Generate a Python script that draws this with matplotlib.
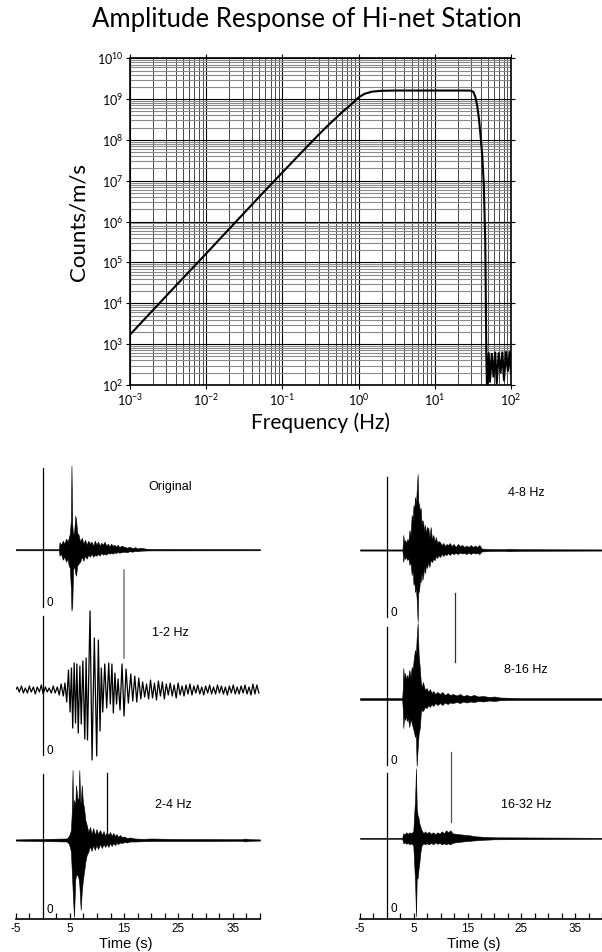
import matplotlib
matplotlib.use('Agg')
import matplotlib.pyplot as plt
from matplotlib.ticker import LogLocator, MultipleLocator, FixedLocator, FixedFormatter, NullFormatter

plt.rcParams['font.family'] = ['Lato', 'DejaVu Sans']
plt.rcParams['mathtext.default'] = 'regular'
plt.rcParams['axes.unicode_minus'] = False

# ---- amplitude response ----
freq = [0.001, 0.002, 0.005, 0.01, 0.02, 0.05, 0.1, 0.2, 0.3, 0.4, 0.5, 0.6, 0.7,
        0.8, 1.0, 1.2, 1.5, 2.0, 3.0, 5.0, 10, 20, 28, 30, 32, 34, 36, 38, 40,
        42, 44, 46, 47.5, 48.5]
counts = [1.7e3, 6.8e3, 4.2e4, 1.65e5, 6.6e5, 4.1e6, 1.6e7, 6.2e7, 1.35e8, 2.3e8,
          3.4e8, 4.7e8, 6.0e8, 7.4e8, 1.1e9, 1.35e9, 1.52e9, 1.6e9, 1.62e9, 1.62e9,
          1.62e9, 1.62e9, 1.62e9, 1.6e9, 1.5e9, 1.15e9, 7e8, 3.3e8, 1.2e8,
          4e7, 8e6, 3e5, 5e2, 80]
noise_freq = [49, 51, 53, 56, 59, 62, 65, 69, 73, 77, 81, 86, 91, 96, 100]
noise_counts = [90, 6e2, 1.2e2, 5.8e2, 1.6e2, 6.2e2, 1.1e2, 6e2, 2e2, 6.3e2, 1.3e2,
                6.4e2, 2.2e2, 6.5e2, 2e2]

# ---- seismograms: envelopes (time s, upper, lower) in relative amplitude ----
t_orig = [-5, 3.0, 3.1, 3.4, 3.7, 4.0, 4.3, 4.6, 4.8, 5.0,
          5.2, 5.3, 5.45, 5.6, 5.8, 6.0, 6.15, 6.35, 6.6, 6.9,
          7.2, 7.5, 7.8, 8.1, 8.4, 8.7, 9.0, 9.3, 9.6, 9.9,
          10.2, 10.5, 10.8, 11.1, 11.4, 11.7, 12.0, 12.3, 12.6, 12.9,
          13.2, 13.5, 13.8, 14.1, 14.5, 15.0, 15.5, 16.0, 16.5, 17.0,
          17.5, 18.0, 19.0, 20.0, 40]
up_orig = [0.6, 0.6, 7.5, 5, 9, 6, 11, 8, 12, 16,
           30, 84, 25, 14, 18, 34, 30, 17, 15, 8,
           12, 6, 10, 5, 9, 6, 8, 4, 9, 5,
           8, 4, 7, 5, 8, 4, 6, 3, 6, 4,
           5, 3, 5, 2.5, 4, 3, 2, 3, 1.5, 2.5,
           1.2, 2, 1, 0.8, 0.6]
lo_orig = [-0.6, -0.6, -6, -4, -10, -7, -12, -9, -16, -18,
           -40, -61, -55, -20, -16, -24, -26, -16, -14, -12,
           -7, -11, -6, -9, -5, -7, -4, -7, -5, -6,
           -4, -6, -3, -5, -4, -5, -3, -4, -3, -4,
           -2.5, -3.5, -2, -3, -2.5, -2, -2.5, -1.5, -2, -1.2,
           -1.5, -1, -0.8, -0.7, -0.6]

# 1-2 Hz: successive peaks and troughs
t_12 = [-5.0, -4.65, -4.3, -3.9, -3.55, -3.2, -2.8, -2.45, -2.1, -1.7, -1.35, -1.0,
        -0.6, -0.25, 0.1, 0.5, 0.85, 1.2, 1.6, 1.95, 2.3, 2.7, 3.05, 3.4, 3.8,
        4.10, 4.43, 4.75, 5.05, 5.30, 5.53, 5.80, 6.05, 6.30, 6.55, 6.85, 7.10,
        7.40, 7.75, 8.00, 8.25, 8.72, 9.09, 9.51, 9.95, 10.25, 10.56, 10.80, 11.06,
        11.43, 11.79, 12.16, 12.45, 12.75, 13.01, 13.30, 13.60, 13.88, 14.24, 14.61,
        14.98, 15.35, 15.77, 16.22, 16.58, 16.95, 17.32, 17.69, 18.06,
        18.40, 18.77, 19.12, 19.50, 19.85, 20.22, 20.58, 20.95, 21.30, 21.68, 22.03,
        22.40, 22.75, 23.12, 23.48, 23.85, 24.20, 24.58, 24.93, 25.30, 25.66, 26.02,
        26.38, 26.75, 27.10, 27.48, 27.83, 28.20, 28.55, 28.92, 29.28, 29.65, 30.00,
        30.38, 30.73, 31.10, 31.45, 31.83, 32.18, 32.55, 32.90, 33.28, 33.63, 34.00,
        34.36, 34.72, 35.08, 35.45, 35.80, 36.17, 36.52, 36.90, 37.25, 37.62, 37.98,
        38.35, 38.70, 39.07, 39.42, 39.80]
a_12 = [0, 3, -2, 4, -3, 2, -3, 4, -2, 3, -4, 3, -2, 5, -4, 3, -2, 2, -3, 4, -3, 3,
        -5, 6, -6,
        7, -12, 20, -22, 22, -38, 27, -33, 26, -43, 24, -34,
        29, -49, 32, -50, 79, -70, 52, -66, 50, -41, 22, -22,
        26, -18, 27, -14, 26, -23, 17, -14, 11, -20, 26,
        -26, 21, -13, 16, -11, 14, -12, 12, -9,
        8, -7, 6, -9, 10, -8, 7, -10, 9, -6, 8,
        -9, 6, -5, 7, -6, 5, -8, 7, -5, 4, -6,
        5, -4, 6, -5, 4, -3, 5, -4, 3, -5, 4,
        -3, 5, -4, 3, -4, 5, -3, 4, -4, 3, -5,
        4, -3, 5, -4, 3, -4, 4, -3, 5, -4, 3,
        -5, 6, -4, 5, -3]

t_24 = [-5, 4.4, 4.7, 4.9, 5.1, 5.2, 5.35, 5.5, 5.6, 5.77,
        6.0, 6.14, 6.38, 6.6, 6.75, 6.9, 7.0, 7.19, 7.4, 7.62,
        7.85, 8.11, 8.4, 8.72, 9.0, 9.3, 9.6, 9.9, 10.2, 10.56,
        10.9, 11.2, 11.5, 11.8, 12.1, 12.4, 12.7, 13.0, 13.3, 13.6,
        13.9, 14.24, 14.6, 15.0, 15.5, 16.1, 17, 18.5, 20, 25,
        30, 36.5, 37.3, 38.2, 40]
up_24 = [0.6, 1.5, 3, 5, 8, 10, 27, 70, 30, 40,
         35, 55, 42, 40, 70, 40, 35, 55, 38, 32,
         20, 15, 8, 13, 6, 12, 5, 11, 6, 10,
         5, 9, 4, 8, 5, 8, 4, 7, 4, 6,
         3, 5, 3, 3.5, 2, 2.5, 1.5, 1.2, 1.5, 1,
         1, 0.8, 1.4, 0.8, 0.6]
lo_24 = [-0.6, -1.5, -3, -5, -9, -12, -30, -48, -60, -77,
         -40, -35, -35, -38, -45, -60, -70, -52, -40, -32,
         -22, -15, -12, -6, -11, -5, -10, -5, -9, -4,
         -8, -4, -7, -4, -7, -3, -6, -3, -5, -3,
         -4, -2.5, -3, -2, -2.5, -1.5, -1.5, -1.2, -1, -1,
         -1, -0.8, -1.4, -0.8, -0.6]

t_48 = [-5, 2.9, 3.05, 3.2, 3.4, 3.6, 3.8, 4.0, 4.2, 4.4,
        4.61, 4.8, 4.95, 5.1, 5.22, 5.4, 5.55, 5.72, 5.84, 6.0,
        6.15, 6.28, 6.45, 6.6, 6.77, 6.95, 7.1, 7.27, 7.45, 7.7,
        7.9, 8.14, 8.4, 8.63, 8.9, 9.1, 9.37, 9.6, 9.87, 10.2,
        10.5, 10.8, 11.1, 11.4, 11.7, 12.0, 12.4, 12.8, 13.2, 13.6,
        14.0, 14.4, 14.8, 15.2, 15.6, 16.0, 16.4, 16.8, 17.2, 17.6,
        19.0, 22.0, 22.5, 25.0, 40]
up_48 = [0.6, 0.6, 15, 8, 10, 7, 11, 9, 20, 14,
         35, 30, 45, 40, 53, 45, 60, 76, 48, 45,
         38, 42, 25, 30, 27, 18, 25, 16, 23, 22,
         12, 23, 10, 15, 8, 13, 7, 9, 8, 5,
         7, 4, 6, 5, 7, 4, 6, 3, 6, 4,
         5, 3, 4.5, 3, 5, 3, 4.5, 3, 5, 1.5,
         1, 0.8, 1.2, 0.8, 0.6]
lo_48 = [-0.6, -0.6, -12, -6, -9, -7, -10, -8, -15, -12,
         -25, -20, -35, -30, -42, -38, -50, -72, -43, -40,
         -30, -32, -22, -30, -25, -17, -23, -15, -18, -12,
         -17, -10, -12, -9, -10, -6, -8, -5, -7, -4,
         -6, -4, -5, -3, -5, -3, -4, -3, -4, -2.5,
         -3.5, -3, -4, -2.5, -4, -2.5, -3.5, -3, -4, -1.5,
         -1, -0.8, -1.2, -0.8, -0.6]

t_816 = [-5, 2.85, 2.95, 3.05, 3.2, 3.4, 3.55, 3.7, 3.9, 4.17,
         4.4, 4.61, 4.8, 5.0, 5.22, 5.4, 5.53, 5.72, 5.9, 6.15,
         6.3, 6.46, 6.7, 7.08, 7.4, 7.7, 8.0, 8.3, 8.63, 9.0,
         9.4, 9.87, 10.3, 10.8, 11.3, 11.73, 12.3, 12.97, 13.6, 14.2,
         14.83, 15.5, 16.2, 17.0, 17.92, 19.0, 20.0, 21.0, 22.9, 25,
         40]
up_816 = [0.9, 0.9, 10, 31, 20, 26, 18, 24, 20, 29,
          22, 32, 30, 40, 49, 45, 60, 76, 45, 29,
          17, 12, 17, 9, 11, 7, 10, 6, 8, 5,
          7, 5, 7, 4, 6, 4, 5, 3.5, 5, 3,
          4, 3, 4, 2.5, 3, 2, 2.5, 1.5, 1.2, 0.9,
          0.9]
lo_816 = [-0.9, -0.9, -10, -29, -18, -21, -16, -22, -19, -28,
          -20, -24, -28, -32, -38, -35, -67, -50, -35, -28,
          -14, -11, -12, -8, -9, -6, -8, -5, -7, -4,
          -6, -4, -6, -3.5, -5, -3.5, -4, -3, -4, -2.5,
          -3.5, -2.5, -3, -2, -2.5, -1.5, -2, -1.2, -1, -0.9,
          -0.9]

t_1632 = [-5, 2.85, 3.05, 3.3, 3.6, 3.9, 4.2, 4.5, 4.91, 5.09,
          5.25, 5.41, 5.55, 5.72, 5.9, 6.03, 6.2, 6.46, 6.8, 7.1,
          7.39, 7.8, 8.2, 8.6, 9.0, 9.4, 9.8, 10.2, 10.6, 11.0,
          11.4, 11.8, 12.2, 12.8, 13.6, 14.4, 15.4, 16.5, 17.9, 20,
          40]
up_1632 = [0.5, 0.5, 5, 4, 6, 4.5, 6, 5, 7, 25,
           40, 70, 30, 23, 20, 15, 12, 8, 5, 7,
           5, 6.5, 4.5, 6, 4, 6, 4.5, 7, 5, 8,
           6, 8, 5, 4.5, 4, 3.5, 3, 2, 1.5, 1,
           0.5]
lo_1632 = [-0.5, -0.5, -5, -4, -5.5, -4.5, -6, -5, -7, -27,
           -45, -78, -40, -40, -30, -25, -15, -7, -5, -6,
           -5, -6, -4.5, -6, -4, -5.5, -4.5, -6, -5, -6,
           -5, -6, -4.5, -4, -3.5, -3, -2.5, -2, -1.5, -1,
           -0.5]

time_ticks = [-5, 5, 15, 25, 35]
time_labels = ['-5', '5', '15', '25', '35']

fig = plt.figure(figsize=(6.02, 9.52), dpi=100)

# ---------------- response plot ----------------
ax = fig.add_axes([0.2159, 0.5956, 0.6329, 0.3432])
ax.loglog(freq + noise_freq, counts + noise_counts, color='black', lw=1.5, zorder=3)
ax.set_xlim(1e-3, 1e2)
ax.set_ylim(1e2, 1e10)
ax.xaxis.set_major_locator(LogLocator(base=10, numticks=20))
ax.yaxis.set_major_locator(LogLocator(base=10, numticks=20))
ax.xaxis.set_minor_locator(LogLocator(base=10, subs=range(2, 10), numticks=20))
ax.yaxis.set_minor_locator(LogLocator(base=10, subs=range(2, 10), numticks=20))
ax.xaxis.set_minor_formatter(NullFormatter())
ax.yaxis.set_minor_formatter(NullFormatter())
ax.set_axisbelow(True)
ax.grid(which='major', color='black', lw=0.8)
ax.xaxis.grid(which='minor', color='#2a2a2a', lw=0.6)
ax.yaxis.grid(which='minor', color='#8a8a8a', lw=0.8)
ax.tick_params(which='major', direction='out', length=3, width=0.8, top=True,
               right=True, labelsize=9, pad=2)
ax.tick_params(which='minor', length=0)
for s in ax.spines.values():
    s.set_linewidth(1.2)
ax.set_xlabel('Frequency (Hz)', fontsize=15)
ax.set_ylabel('Counts/m/s', fontsize=16)
ax.xaxis.set_label_coords(0.5, -0.116)
ax.yaxis.set_label_coords(-0.136, 0.5)
ax.xaxis.label.set_va('center')
ax.yaxis.label.set_va('center')
fig.text(307 / 602, 1 - 20 / 952, 'Amplitude Response of Hi-net Station',
         ha='center', va='center', fontsize=18.5)

# ---------------- seismograms ----------------
helv = ['Liberation Sans', 'DejaVu Sans']


def seis_axes(rect, label_x):
    a = fig.add_axes(rect)
    a.set_xlim(-5, 40)
    a.set_ylim(0, 457)
    for side in ['left', 'right', 'top']:
        a.spines[side].set_visible(False)
    a.spines['bottom'].set_linewidth(1.2)
    a.set_yticks([])
    a.xaxis.set_major_locator(FixedLocator(time_ticks))
    a.xaxis.set_major_formatter(FixedFormatter(time_labels))
    a.xaxis.set_minor_locator(MultipleLocator(2.5))
    a.tick_params(which='both', direction='in', length=4, width=0.9, labelsize=8.5, pad=3)
    for lab in a.get_xticklabels():
        lab.set_family(helv)
    a.set_xlabel('Time (s)', fontsize=10.5, family=helv)
    a.xaxis.set_label_coords(label_x, -25 / 457)
    a.xaxis.label.set_va('center')
    return a


def env(a, t, up, lo, base):
    a.fill_between(t, [base + v for v in lo], [base + v for v in up],
                   color='black', lw=0.4, zorder=3)


def marks(a, y0, y1, name, name_x, name_y):
    a.plot([0, 0], [y0, y1], color='black', lw=0.9, zorder=2)
    a.text(0.65, y0 + 1, '0', fontsize=8.5, family=helv, ha='left', va='baseline')
    a.text(name_x, name_y, name, fontsize=9, family=helv, ha='center', va='center')


axl = seis_axes([0.02575, 0.03466, 0.4061, 0.48004], 0.45)
env(axl, t_orig, up_orig, lo_orig, 369.3)
axl.plot(t_12, [229 + v for v in a_12], color='black', lw=0.9, zorder=3)
env(axl, t_24, up_24, lo_24, 79)
marks(axl, 312, 451, 'Original', 23.5, 432)
marks(axl, 164, 303, '1-2 Hz', 23.5, 286)
marks(axl, 5, 145, '2-4 Hz', 24.0, 114)
axl.plot([14.9, 14.9], [261, 349], color='#7a7a7a', lw=1.1, zorder=2)
axl.plot([11.85, 11.85], [87, 146], color='black', lw=0.9, zorder=2)

axr = seis_axes([0.598, 0.03466, 0.402, 0.48004], 0.47)
env(axr, t_48, up_48, lo_48, 369)
env(axr, t_816, up_816, lo_816, 220)
env(axr, t_1632, up_1632, lo_1632, 80.7)
marks(axr, 302, 442, '4-8 Hz', 25.9, 426)
marks(axr, 154, 292, '8-16 Hz', 25.9, 249)
marks(axr, 6, 146, '16-32 Hz', 26.0, 114)
axr.plot([12.6, 12.6], [257, 326], color='#333333', lw=0.9, zorder=2)
axr.plot([12.0, 12.0], [97, 167], color='#555555', lw=0.9, zorder=2)

fig.savefig('out.png', dpi=100)
